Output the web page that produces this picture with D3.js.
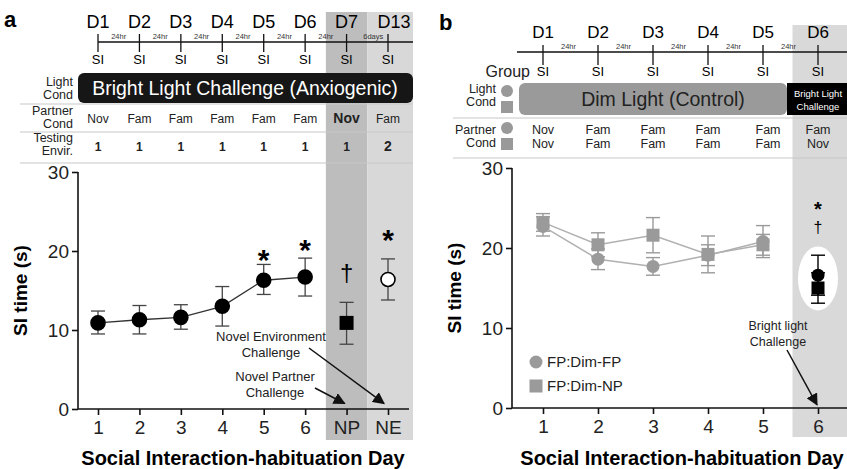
<!DOCTYPE html>
<html>
<head>
<meta charset="utf-8">
<script src="https://cdn.jsdelivr.net/npm/d3@7"></script>
<style>
  body { margin: 0; background: #fff; }
  svg { display: block; font-family: "Liberation Sans", Arial, sans-serif; }
</style>
</head>
<body>
<svg id="chart" width="847" height="469"></svg>
<script>
// ---- data, panel a ----
var catsA = ["1", "2", "3", "4", "5", "6", "NP", "NE"];
var dayLabelsA = ["D1", "D2", "D3", "D4", "D5", "D6", "D7", "D13"];
var gapLabelsA = ["24hr", "24hr", "24hr", "24hr", "24hr", "24hr", "6days"];
var partnerA = ["Nov", "Fam", "Fam", "Fam", "Fam", "Fam", "Nov", "Fam"];
var envA = ["1", "1", "1", "1", "1", "1", "1", "2"];
var meanA = [10.9, 11.3, 11.6, 13.0, 16.3, 16.7, 10.9, 16.4];
var lowA = [9.5, 9.5, 10.1, 10.5, 14.5, 14.3, 8.2, 13.8];
var highA = [12.4, 13.1, 13.2, 15.5, 18.3, 19.1, 13.5, 19.0];
var markA = ["dot", "dot", "dot", "dot", "dot", "dot", "square", "open"];
var sigA = ["", "", "", "", "*", "*", "\u2020", "*"];
var sigAtA = [0, 0, 0, 0, 19.7, 21.0, 17.2, 22.3];   // where the sign sits, in SI seconds
var yTicks = [0, 10, 20, 30];

// ---- data, panel b ----
var catsB = ["1", "2", "3", "4", "5", "6"];
var dayLabelsB = ["D1", "D2", "D3", "D4", "D5", "D6"];
var gapLabelsB = ["24hr", "24hr", "24hr", "24hr", "24hr"];
var partnerFP = ["Nov", "Fam", "Fam", "Fam", "Fam", "Fam"];
var partnerNP = ["Nov", "Fam", "Fam", "Fam", "Fam", "Nov"];
var meanFP = [22.7, 18.6, 17.7, 19.1, 20.8, 16.6];
var errFP = [1.2, 1.3, 1.1, 1.3, 2.0, 2.5];
var meanNP = [23.2, 20.4, 21.6, 19.2, 20.4, 15.0];
var errNP = [1.1, 1.5, 2.2, 2.3, 1.3, 1.9];

var svg = d3.select("#chart");

// scales
var xA = d3.scalePoint().domain(catsA).range([98, 388]);
var yA = d3.scaleLinear().domain([0, 30]).range([409, 172]);
var xB = d3.scalePoint().domain(catsB).range([543, 818]);
var yB = d3.scaleLinear().domain([0, 30]).range([408, 168]);
var stepA = xA.step(), stepB = xB.step();

// arrow marker
svg.append("defs").append("marker")
    .attr("id", "arrow").attr("viewBox", "0 0 10 10")
    .attr("refX", 9).attr("refY", 5)
    .attr("markerWidth", 12).attr("markerHeight", 12)
    .attr("markerUnits", "userSpaceOnUse")
    .attr("orient", "auto")
  .append("path").attr("d", "M0,0 L10,5 L0,10 Z").attr("fill", "#111");

// ================= panel a =================
var a = svg.append("g");

// shaded challenge columns
a.append("rect").attr("x", xA("NP") - stepA / 2).attr("y", 12)
    .attr("width", stepA).attr("height", 428).attr("fill", "#bdbdbd");
a.append("rect").attr("x", xA("NE") - stepA / 2).attr("y", 12)
    .attr("width", 413 - (xA("NE") - stepA / 2)).attr("height", 428).attr("fill", "#d8d8d8");

a.append("text").attr("x", 4).attr("y", 27).attr("font-size", 22)
    .attr("font-weight", "bold").text("a");

// timeline
a.selectAll(".day").data(dayLabelsA).enter().append("text")
    .attr("x", function(d, i) { return xA(catsA[i]) + (d === "D13" ? 6 : 0); })
    .attr("y", 28).attr("text-anchor", "middle").attr("font-size", 18).text(function(d) { return d; });
a.append("line").attr("x1", xA("1")).attr("x2", 413).attr("y1", 42).attr("y2", 42)
    .attr("stroke", "#111").attr("stroke-width", 1.3);
a.selectAll(".tk").data(catsA).enter().append("line")
    .attr("x1", function(d) { return xA(d); }).attr("x2", function(d) { return xA(d); })
    .attr("y1", 34).attr("y2", 52).attr("stroke", "#111").attr("stroke-width", 1.3);
a.selectAll(".gap").data(gapLabelsA).enter().append("text")
    .attr("x", function(d, i) { return xA(catsA[i]) + stepA / 2 + (d === "6days" ? 6 : 0); })
    .attr("y", 39).attr("text-anchor", "middle").attr("font-size", 7.5).attr("fill", "#333")
    .text(function(d) { return d; });
a.selectAll(".si").data(catsA).enter().append("text")
    .attr("x", function(d) { return xA(d); }).attr("y", 64)
    .attr("text-anchor", "middle").attr("font-size", 13).text("SI");

// light condition
a.append("rect").attr("x", 78).attr("y", 73).attr("width", 335).attr("height", 30)
    .attr("rx", 6).attr("fill", "#161616");
a.append("text").attr("x", 245).attr("y", 95).attr("text-anchor", "middle")
    .attr("font-size", 19.5).attr("fill", "#fff").text("Bright Light Challenge (Anxiogenic)");

function rowLabel(g, x, y1, t1, t2) {
  g.append("text").attr("x", x).attr("y", y1).attr("text-anchor", "end")
      .attr("font-size", 12.5).attr("fill", "#222").text(t1);
  g.append("text").attr("x", x).attr("y", y1 + 13).attr("text-anchor", "end")
      .attr("font-size", 12.5).attr("fill", "#222").text(t2);
}
rowLabel(a, 73, 86, "Light", "Cond");
rowLabel(a, 73, 115, "Partner", "Cond");
rowLabel(a, 73, 142, "Testing", "Envir.");

[104, 132, 163].forEach(function(y) {
  a.append("line").attr("x1", 20).attr("x2", 413).attr("y1", y).attr("y2", y)
      .attr("stroke", "#c8c8c8").attr("stroke-width", 1.2);
});

a.selectAll(".partner").data(partnerA).enter().append("text")
    .attr("x", function(d, i) { return xA(catsA[i]); }).attr("y", 123)
    .attr("text-anchor", "middle")
    .attr("font-size", function(d, i) { return i === 6 ? 14 : 12; })
    .attr("font-weight", function(d, i) { return i === 6 ? "bold" : "normal"; })
    .attr("fill", "#222").text(function(d) { return d; });
a.selectAll(".env").data(envA).enter().append("text")
    .attr("x", function(d, i) { return xA(catsA[i]); }).attr("y", 151)
    .attr("text-anchor", "middle")
    .attr("font-size", function(d) { return d === "2" ? 14 : 12; })
    .attr("font-weight", "bold").attr("fill", "#222").text(function(d) { return d; });

// axes
var axA = a.append("g").attr("transform", "translate(78,0)")
    .call(d3.axisLeft(yA).tickValues(yTicks).tickSize(6).tickPadding(3));
axA.select(".domain").attr("d", "M0," + yA(30) + "V" + yA(0));
var axXA = a.append("g").attr("transform", "translate(0," + yA(0) + ")")
    .call(d3.axisBottom(xA).tickSize(6).tickPadding(6));
axXA.select(".domain").attr("d", "M78,0H409");
[axA, axXA].forEach(function(g) {
  g.selectAll("path, line").attr("stroke", "#111").attr("stroke-width", 1.6);
  g.selectAll("text").attr("font-size", 19).attr("fill", "#222")
      .attr("font-family", "Liberation Sans, Arial, sans-serif");
});

a.append("text").attr("transform", "translate(27," + yA(15) + ") rotate(-90)")
    .attr("text-anchor", "middle").attr("font-size", 19).attr("font-weight", "bold")
    .text("SI time (s)");
a.append("text").attr("x", 243).attr("y", 465).attr("text-anchor", "middle")
    .attr("font-size", 20).attr("font-weight", "bold").text("Social Interaction-habituation Day");

// data line (days 1-6)
var lineA = d3.line().x(function(d) { return xA(d.c); }).y(function(d) { return yA(d.v); });
a.append("path")
    .datum(meanA.slice(0, 6).map(function(v, i) { return {c: catsA[i], v: v}; }))
    .attr("d", lineA).attr("fill", "none").attr("stroke", "#333").attr("stroke-width", 1.3);

// error bars, markers, signs
catsA.forEach(function(c, i) {
  var x = xA(c);
  a.append("line").attr("x1", x).attr("x2", x).attr("y1", yA(lowA[i])).attr("y2", yA(highA[i]))
      .attr("stroke", "#444").attr("stroke-width", 1.3);
  [lowA[i], highA[i]].forEach(function(v) {
    a.append("line").attr("x1", x - 7).attr("x2", x + 7).attr("y1", yA(v)).attr("y2", yA(v))
        .attr("stroke", "#444").attr("stroke-width", 1.3);
  });
  if (markA[i] === "square") {
    a.append("rect").attr("x", x - 7).attr("y", yA(meanA[i]) - 7)
        .attr("width", 14).attr("height", 14).attr("fill", "#000");
  } else {
    a.append("circle").attr("cx", x).attr("cy", yA(meanA[i])).attr("r", 7)
        .attr("fill", markA[i] === "open" ? "#fff" : "#000")
        .attr("stroke", "#000").attr("stroke-width", 1.6);
  }
  if (sigA[i] === "*") {
    // asterisk glyph sits high in the em box, so push the baseline down
    a.append("text").attr("x", x).attr("y", yA(sigAtA[i]) + 17).attr("text-anchor", "middle")
        .attr("font-size", 30).attr("font-weight", "bold").text("*");
  } else if (sigA[i]) {
    a.append("text").attr("x", x).attr("y", yA(sigAtA[i]) + 8).attr("text-anchor", "middle")
        .attr("font-size", 24).text(sigA[i]);
  }
});

// annotations
a.append("text").attr("x", 271).attr("y", 341).attr("text-anchor", "middle")
    .attr("font-size", 13).attr("fill", "#222").text("Novel Environment");
a.append("text").attr("x", 271).attr("y", 357).attr("text-anchor", "middle")
    .attr("font-size", 13).attr("fill", "#222").text("Challenge");
a.append("text").attr("x", 275).attr("y", 381).attr("text-anchor", "middle")
    .attr("font-size", 13).attr("fill", "#222").text("Novel Partner");
a.append("text").attr("x", 275).attr("y", 397).attr("text-anchor", "middle")
    .attr("font-size", 13).attr("fill", "#222").text("Challenge");
a.append("line").attr("x1", 309).attr("y1", 348).attr("x2", xA("NE") - 4).attr("y2", yA(0.7))
    .attr("stroke", "#111").attr("stroke-width", 1.5).attr("marker-end", "url(#arrow)");
a.append("line").attr("x1", 315).attr("y1", 388).attr("x2", xA("NP") - 2).attr("y2", yA(0.7))
    .attr("stroke", "#111").attr("stroke-width", 1.5).attr("marker-end", "url(#arrow)");

// ================= panel b =================
var b = svg.append("g");

b.append("rect").attr("x", xB("6") - stepB / 2 + 2).attr("y", 25)
    .attr("width", 847 - (xB("6") - stepB / 2 + 2)).attr("height", 412).attr("fill", "#d9d9d9");

b.append("text").attr("x", 439).attr("y", 30).attr("font-size", 22)
    .attr("font-weight", "bold").text("b");

b.selectAll(".day").data(dayLabelsB).enter().append("text")
    .attr("x", function(d, i) { return xB(catsB[i]); }).attr("y", 38)
    .attr("text-anchor", "middle").attr("font-size", 17).text(function(d) { return d; });
b.append("line").attr("x1", 517).attr("x2", 847).attr("y1", 52).attr("y2", 52)
    .attr("stroke", "#111").attr("stroke-width", 1.3);
b.selectAll(".tk").data(catsB).enter().append("line")
    .attr("x1", function(d) { return xB(d); }).attr("x2", function(d) { return xB(d); })
    .attr("y1", 45).attr("y2", 65).attr("stroke", "#111").attr("stroke-width", 1.3);
b.selectAll(".gap").data(gapLabelsB).enter().append("text")
    .attr("x", function(d, i) { return xB(catsB[i]) + stepB / 2 - 2; })
    .attr("y", 49).attr("text-anchor", "middle").attr("font-size", 7.5).attr("fill", "#333")
    .text(function(d) { return d; });
b.selectAll(".si").data(catsB).enter().append("text")
    .attr("x", function(d) { return xB(d); }).attr("y", 76)
    .attr("text-anchor", "middle").attr("font-size", 13).text("SI");
b.append("text").attr("x", 530).attr("y", 77).attr("text-anchor", "end")
    .attr("font-size", 16).attr("fill", "#222").text("Group");

rowLabel(b, 496, 93, "Light", "Cond");
rowLabel(b, 496, 134, "Partner", "Cond");
[91, 128].forEach(function(y) {
  b.append("circle").attr("cx", 507).attr("cy", y).attr("r", 6).attr("fill", "#999");
  b.append("rect").attr("x", 501).attr("y", y + 10).attr("width", 12).attr("height", 12).attr("fill", "#999");
});

b.append("rect").attr("x", 519).attr("y", 83).attr("width", 268).attr("height", 32)
    .attr("rx", 6).attr("fill", "#9a9a9a");
b.append("text").attr("x", 663).attr("y", 106).attr("text-anchor", "middle")
    .attr("font-size", 19.5).attr("fill", "#222").text("Dim Light  (Control)");
b.append("rect").attr("x", 787).attr("y", 83).attr("width", 60).attr("height", 32).attr("fill", "#000");
b.append("text").attr("x", 818).attr("y", 97).attr("text-anchor", "middle")
    .attr("font-size", 9.5).attr("fill", "#fff").text("Bright Light");
b.append("text").attr("x", 818).attr("y", 110).attr("text-anchor", "middle")
    .attr("font-size", 9.5).attr("fill", "#fff").text("Challenge");

[118, 158].forEach(function(y) {
  b.append("line").attr("x1", 453).attr("x2", 847).attr("y1", y).attr("y2", y)
      .attr("stroke", "#c8c8c8").attr("stroke-width", 1.2);
});
b.selectAll(".pfp").data(partnerFP).enter().append("text")
    .attr("x", function(d, i) { return xB(catsB[i]) + (i === 4 ? 5 : 0); }).attr("y", 134)
    .attr("text-anchor", "middle").attr("font-size", 12.5).attr("fill", "#222")
    .text(function(d) { return d; });
b.selectAll(".pnp").data(partnerNP).enter().append("text")
    .attr("x", function(d, i) { return xB(catsB[i]) + (i === 4 ? 5 : 0); }).attr("y", 148)
    .attr("text-anchor", "middle").attr("font-size", 12.5).attr("fill", "#222")
    .text(function(d) { return d; });

// axes
var axB = b.append("g").attr("transform", "translate(512,0)")
    .call(d3.axisLeft(yB).tickValues(yTicks).tickSize(6).tickPadding(3));
axB.select(".domain").attr("d", "M0," + yB(30) + "V" + yB(0));
var axXB = b.append("g").attr("transform", "translate(0," + yB(0) + ")")
    .call(d3.axisBottom(xB).tickSize(6).tickPadding(6));
axXB.select(".domain").attr("d", "M512,0H847");
[axB, axXB].forEach(function(g) {
  g.selectAll("path, line").attr("stroke", "#111").attr("stroke-width", 1.6);
  g.selectAll("text").attr("font-size", 19).attr("fill", "#222")
      .attr("font-family", "Liberation Sans, Arial, sans-serif");
});
b.append("text").attr("transform", "translate(461," + yB(15) + ") rotate(-90)")
    .attr("text-anchor", "middle").attr("font-size", 19).attr("font-weight", "bold")
    .text("SI time (s)");
b.append("text").attr("x", 682).attr("y", 465).attr("text-anchor", "middle")
    .attr("font-size", 20).attr("font-weight", "bold").text("Social Interaction-habituation Day");

// white halo round day-6 points
b.append("ellipse").attr("cx", xB("6")).attr("cy", yB(16.2)).attr("rx", 20).attr("ry", 32)
    .attr("fill", "#fff");

var lineB = d3.line().x(function(d, i) { return xB(catsB[i]); }).y(function(d) { return yB(d); });
[meanFP, meanNP].forEach(function(m) {
  b.append("path").datum(m.slice(0, 5)).attr("d", lineB)
      .attr("fill", "none").attr("stroke", "#b0b0b0").attr("stroke-width", 1.5);
});

function errBar(x, lo, hi, col) {
  b.append("line").attr("x1", x).attr("x2", x).attr("y1", yB(lo)).attr("y2", yB(hi))
      .attr("stroke", col).attr("stroke-width", 1.4);
  [lo, hi].forEach(function(v) {
    b.append("line").attr("x1", x - 7).attr("x2", x + 7).attr("y1", yB(v)).attr("y2", yB(v))
        .attr("stroke", col).attr("stroke-width", 1.4);
  });
}
catsB.forEach(function(c, i) {
  var x = xB(c), col = i === 5 ? "#000" : "#9a9a9a";
  errBar(x, meanFP[i] - errFP[i], meanFP[i] + errFP[i], col);
  errBar(x, meanNP[i] - errNP[i], meanNP[i] + errNP[i], col);
  b.append("circle").attr("cx", x).attr("cy", yB(meanFP[i])).attr("r", 6.5).attr("fill", col);
  b.append("rect").attr("x", x - 6.5).attr("y", yB(meanNP[i]) - 6.5)
      .attr("width", 13).attr("height", 13).attr("fill", col);
});

b.append("text").attr("x", xB("6")).attr("y", yB(25.4) + 11).attr("text-anchor", "middle")
    .attr("font-size", 20).attr("font-weight", "bold").text("*");
b.append("text").attr("x", xB("6")).attr("y", yB(22.9) + 8).attr("text-anchor", "middle")
    .attr("font-size", 16).text("\u2020");

// legend
b.append("circle").attr("cx", 536).attr("cy", 362).attr("r", 6.5).attr("fill", "#9a9a9a");
b.append("text").attr("x", 547).attr("y", 367).attr("font-size", 15).attr("fill", "#222").text("FP:Dim-FP");
b.append("rect").attr("x", 529.5).attr("y", 379.5).attr("width", 13).attr("height", 13).attr("fill", "#9a9a9a");
b.append("text").attr("x", 547).attr("y", 391).attr("font-size", 15).attr("fill", "#222").text("FP:Dim-NP");

b.append("text").attr("x", 778).attr("y", 330).attr("text-anchor", "middle")
    .attr("font-size", 12.5).attr("fill", "#222").text("Bright light");
b.append("text").attr("x", 778).attr("y", 346).attr("text-anchor", "middle")
    .attr("font-size", 12.5).attr("fill", "#222").text("Challenge");
b.append("line").attr("x1", 787).attr("y1", 350).attr("x2", xB("6") - 1).attr("y2", yB(0.4))
    .attr("stroke", "#111").attr("stroke-width", 1.5).attr("marker-end", "url(#arrow)");
</script>
</body>
</html>
